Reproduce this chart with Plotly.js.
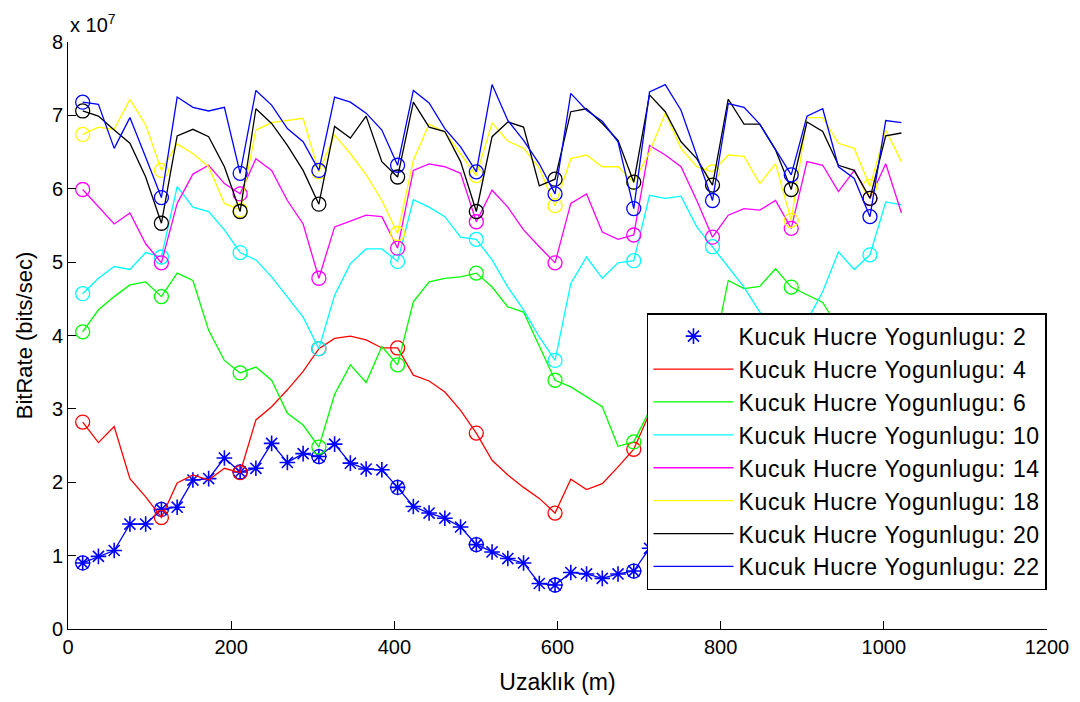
<!DOCTYPE html>
<html>
<head>
<meta charset="utf-8">
<script src="https://cdn.plot.ly/plotly-3.0.1.min.js"></script>
<style>html,body{margin:0;padding:0;background:#fff;}#chart{width:1080px;height:702px;}
.legendtext{letter-spacing:0.7px;}</style>
</head>
<body>
<div id="chart"></div>
<script>
// Distance (m)
const distance = [18.0,37.3,56.6,75.9,95.2,114.5,133.8,153.1,172.4,191.7,211.0,230.3,249.6,268.9,288.2,307.5,326.8,346.1,365.4,384.7,404.0,423.3,442.6,461.9,481.2,500.5,519.8,539.1,558.4,577.7,597.0,616.3,635.6,654.9,674.2,693.5,712.8,732.1,751.4,770.7,790.0,809.3,828.6,847.9,867.2,886.5,905.8,925.1,944.4,963.7,983.0,1002.3,1021.6];

// Bit rate values in units of 1e7 bits/sec
const rate2  = [0.90,0.99,1.07,1.43,1.43,1.63,1.66,2.03,2.05,2.33,2.14,2.19,2.53,2.27,2.39,2.35,2.52,2.26,2.18,2.17,1.93,1.67,1.58,1.51,1.39,1.15,1.05,0.96,0.90,0.62,0.60,0.77,0.75,0.69,0.75,0.79,1.10,1.20,1.35,1.50,1.70,1.85,2.00,2.20,2.30,2.40,2.30,2.20,2.00,1.90,1.80,1.60,1.50];
const rate4  = [2.82,2.54,2.76,2.05,1.80,1.52,1.99,2.10,2.03,2.19,2.13,2.85,3.03,3.26,3.51,3.82,3.96,3.99,3.94,3.83,3.83,3.46,3.38,3.23,2.98,2.67,2.30,2.10,1.93,1.78,1.58,2.04,1.90,1.98,2.21,2.45,2.94,3.20,3.50,3.70,3.90,3.95,3.90,3.80,3.60,3.40,3.20,3.00,2.80,2.70,2.60,2.50,2.40];
const rate6  = [4.05,4.35,4.53,4.69,4.73,4.53,4.85,4.75,4.07,3.66,3.49,3.57,3.39,2.94,2.78,2.48,3.20,3.60,3.36,3.85,3.60,4.46,4.73,4.78,4.80,4.85,4.66,4.39,4.32,3.85,3.39,3.30,3.16,3.03,2.49,2.55,2.98,2.90,3.10,3.40,3.70,4.75,4.64,4.67,4.91,4.66,4.55,4.45,4.10,3.90,3.70,3.60,3.50];
const rate10 = [4.57,4.78,4.94,4.90,5.13,5.07,6.03,5.75,5.69,5.44,5.13,5.03,4.80,4.53,4.25,3.82,4.55,4.98,5.18,5.18,5.01,5.85,5.75,5.62,5.34,5.31,5.03,4.66,4.35,3.98,3.66,4.71,5.07,4.78,4.99,5.02,5.91,5.87,5.90,5.48,5.21,4.94,4.66,4.32,4.10,3.90,4.20,4.60,5.14,4.90,5.10,5.82,5.78];
const rate14 = [5.99,5.76,5.52,5.67,5.25,4.99,5.80,6.20,6.32,6.07,5.93,6.41,6.25,5.84,5.52,4.78,5.48,5.56,5.64,5.62,5.19,6.25,6.34,6.30,6.21,5.55,5.98,5.75,5.44,5.21,4.99,5.80,5.93,5.41,5.31,5.37,6.59,6.46,6.30,5.84,5.34,5.64,5.73,5.71,5.84,5.46,6.37,6.32,5.96,6.25,5.87,6.34,5.67];
const rate18 = [6.74,6.84,6.81,7.22,6.87,6.25,6.61,6.48,6.30,5.80,5.71,6.80,6.90,6.93,6.96,6.23,6.73,6.48,6.19,5.84,5.39,6.39,6.88,6.77,6.47,6.18,6.90,6.65,6.55,6.28,5.77,6.41,6.46,6.30,6.30,6.09,6.50,7.03,6.55,6.30,6.23,6.46,6.44,6.07,6.34,5.57,6.97,6.97,6.62,6.55,6.03,6.80,6.37];
const rate20 = [7.06,6.99,6.80,6.62,6.16,5.53,6.72,6.81,6.71,6.30,5.69,7.09,6.89,6.59,6.25,5.79,6.85,6.69,6.99,6.37,6.16,7.18,6.84,6.78,6.37,5.69,6.71,6.91,6.84,6.04,6.13,7.05,7.09,6.89,6.66,6.09,7.28,7.05,6.64,6.41,6.05,7.22,6.88,6.88,6.53,5.99,6.91,6.78,6.32,6.25,5.87,6.72,6.76];
const rate22 = [7.18,7.15,6.55,6.97,6.43,5.88,7.25,7.11,7.06,7.11,6.21,7.34,7.14,6.82,6.64,6.25,7.25,7.18,7.03,6.80,6.32,7.34,7.17,6.82,6.57,6.23,7.42,6.93,6.66,6.34,5.93,7.30,7.07,6.92,6.64,5.73,7.32,7.42,7.07,6.46,5.84,7.16,7.11,6.88,6.53,6.19,6.99,7.09,6.30,6.14,5.62,6.93,6.90];

const densities = [2,4,6,10,14,18,20,22];
const seriesData = [rate2, rate4, rate6, rate10, rate14, rate18, rate20, rate22];
const colors = ['#0000ff','#ff0000','#00ff00','#00ffff','#ff00ff','#ffff00','#000000','#0000ff'];
const labelPrefix = 'Kucuk Hucre Yogunlugu: ';
const xTicks = [0,200,400,600,800,1000,1200];
const yTicks = [0,1,2,3,4,5,6,7,8];

const FONT = 'Liberation Sans, Arial, Helvetica, sans-serif';
const traces = [];
densities.forEach((d, i) => {
  const ys = seriesData[i];
  const c = colors[i];
  const cx = distance.filter((_, k) => k % 5 === 0);
  const cy = ys.filter((_, k) => k % 5 === 0);
  if (i === 0) {
    traces.push({x: distance, y: ys, mode: 'lines', line: {color: c, width: 1.3}, showlegend: false, hoverinfo: 'skip'});
    traces.push({x: distance, y: ys, mode: 'markers', name: labelPrefix + d, legendgroup: 'g' + i,
      marker: {symbol: 'asterisk-open', size: 13, color: c, line: {color: c, width: 1.6}}});
  } else {
    traces.push({x: distance, y: ys, mode: 'lines', name: labelPrefix + d, legendgroup: 'g' + i,
      line: {color: c, width: 1.3}});
  }
  traces.push({x: cx, y: cy, mode: 'markers', showlegend: false, hoverinfo: 'skip',
    marker: {symbol: 'circle-open', size: 14, color: c, line: {color: c, width: 1.3}}});
});

const axisCommon = {
  showline: true, linecolor: '#000', linewidth: 1, mirror: false,
  ticks: 'inside', ticklen: 8, tickcolor: '#000', tickwidth: 1,
  showgrid: false, zeroline: false,
  tickfont: {family: FONT, size: 20, color: '#000'}
};

const layout = {
  width: 1080, height: 702,
  margin: {l: 68, r: 33, t: 42, b: 73},
  paper_bgcolor: '#fff', plot_bgcolor: '#fff',
  font: {family: FONT, color: '#000'},
  xaxis: Object.assign({}, axisCommon, {
    range: [0, 1200], tickvals: xTicks, ticktext: xTicks.map(String),
    title: {text: 'Uzaklık (m)', font: {family: FONT, size: 23, color: '#000'}, standoff: 16}
  }),
  yaxis: Object.assign({}, axisCommon, {
    range: [0, 8], tickvals: yTicks, ticktext: yTicks.map(String),
    title: {text: 'BitRate (bits/sec)', font: {family: FONT, size: 22, color: '#000'}, standoff: 13}
  }),
  legend: {
    x: 0.5914, y: 0.538, xanchor: 'left', yanchor: 'top',
    bgcolor: '#fff', bordercolor: '#000', borderwidth: 1.5,
    font: {family: FONT, size: 23, color: '#000'},
    traceorder: 'grouped', tracegroupgap: 0, itemwidth: 80
  },
  annotations: [{
    xref: 'paper', yref: 'paper', x: 0, y: 1, xanchor: 'left', yanchor: 'bottom',
    text: 'x 10<sup>7</sup>', showarrow: false, yshift: 4,
    font: {family: FONT, size: 20, color: '#000'}
  }],
  showlegend: true
};

Plotly.newPlot('chart', traces, layout, {displayModeBar: false, staticPlot: true});
</script>
</body>
</html>
